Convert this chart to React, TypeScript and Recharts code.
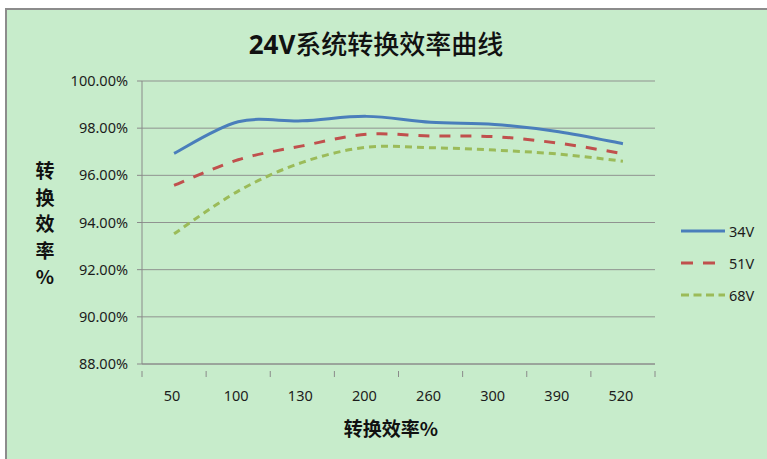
import React from "react";
import { LineChart, Line, XAxis, YAxis, CartesianGrid } from "recharts";

const categories = ["50", "100", "130", "200", "260", "300", "390", "520"];
const v34 = [96.93, 98.27, 98.31, 98.5, 98.25, 98.16, 97.85, 97.34];
const v51 = [95.57, 96.66, 97.25, 97.74, 97.67, 97.64, 97.36, 96.92];
const v68 = [93.52, 95.33, 96.55, 97.19, 97.17, 97.07, 96.9, 96.6];
const yTicks = [88, 90, 92, 94, 96, 98, 100];

const data = categories.map((c, i) => ({ name: c, a: v34[i], b: v51[i], c: v68[i] }));

const SERIES = [
  { key: "a", name: "34V", color: "#4A7EBB", dash: undefined, legendDash: undefined },
  { key: "b", name: "51V", color: "#C0504D", dash: "11 10", legendDash: "12 10" },
  { key: "c", name: "68V", color: "#9BBB59", dash: "7 5", legendDash: "8 4.5" },
];

const W = 767;
const H = 459;
const M = { top: 81, right: 112, bottom: 0, left: 0 };
const X_H = 95;
const Y_W = 142;
const BAND = (W - Y_W - M.right) / categories.length;

const FONT = '"Noto Sans", "Noto Sans CJK SC", sans-serif';
const CJK = '"Noto Sans CJK SC", sans-serif';
const TEXT = "#1c1c1c";
const AXIS = "#8a8a8a";

// excel-like smoothed line (catmull-rom)
const excelSmooth = (context: any) => {
  let pts: number[][] = [];
  return {
    areaStart() {},
    areaEnd() {},
    lineStart() {
      pts = [];
    },
    point(x: number, y: number) {
      pts.push([+x, +y]);
    },
    lineEnd() {
      if (!pts.length) return;
      context.moveTo(pts[0][0], pts[0][1]);
      for (let i = 0; i < pts.length - 1; i++) {
        const p0 = pts[Math.max(i - 1, 0)];
        const p1 = pts[i];
        const p2 = pts[i + 1];
        const p3 = pts[Math.min(i + 2, pts.length - 1)];
        context.bezierCurveTo(
          p1[0] + (p2[0] - p0[0]) / 6,
          p1[1] + (p2[1] - p0[1]) / 6,
          p2[0] - (p3[0] - p1[0]) / 6,
          p2[1] - (p3[1] - p1[1]) / 6,
          p2[0],
          p2[1]
        );
      }
    },
  };
};

const XTick = (props: any) => {
  const { x, y, payload, index } = props;
  const half = BAND / 2;
  return (
    <g>
      <line x1={x - half} x2={x - half} y1={y - 1} y2={y + 5} stroke={AXIS} />
      {index === categories.length - 1 && (
        <line x1={x + half} x2={x + half} y1={y - 1} y2={y + 5} stroke={AXIS} />
      )}
      <text x={x - 2} y={y + 29} textAnchor="middle" fontSize={14.5} fontFamily={FONT} fill={TEXT}>
        {payload.value}
      </text>
    </g>
  );
};

export default function App() {
  return (
    <div style={{ position: "absolute", left: 0, top: 0, width: W, height: H, background: "#fff", overflow: "hidden" }}>
      <div
        style={{
          position: "absolute",
          left: 5,
          top: 8,
          width: 820,
          height: 520,
          background: "#C7ECCB",
          border: "2px solid #8c8c8c",
          boxSizing: "border-box",
        }}
      />
      <div
        style={{
          position: "absolute",
          left: 0,
          top: 27,
          width: 752,
          textAlign: "center",
          fontSize: 26,
          lineHeight: "32px",
          color: "#111",
        }}
      >
        <span style={{ fontFamily: FONT, fontWeight: 700 }}>24V</span>
        <span style={{ fontFamily: CJK, fontWeight: 500 }}>系统转换效率曲线</span>
      </div>
      <div
        style={{
          position: "absolute",
          left: 33,
          top: 157,
          width: 24,
          textAlign: "center",
          fontFamily: CJK,
          fontWeight: 700,
          fontSize: 19,
          lineHeight: "26.5px",
          color: "#111",
        }}
      >
        {"转换效率%".split("").map((ch, i) => (
          <div key={i}>{ch}</div>
        ))}
      </div>
      <div
        style={{
          position: "absolute",
          left: 0,
          top: 415,
          width: 782,
          textAlign: "center",
          fontFamily: CJK,
          fontWeight: 700,
          fontSize: 19,
          lineHeight: "26px",
          color: "#111",
        }}
      >
        转换效率%
      </div>
      <div style={{ position: "absolute", left: 680, top: 215, fontFamily: FONT, fontSize: 14.5, color: TEXT }}>
        {SERIES.map((s) => (
          <div key={s.key} style={{ display: "flex", alignItems: "center", height: 32 }}>
            <svg width={48} height={10}>
              <line x1={1} x2={45} y1={5} y2={5} stroke={s.color} strokeWidth={3} strokeDasharray={s.legendDash} />
            </svg>
            <span style={{ marginLeft: 1 }}>{s.name}</span>
          </div>
        ))}
      </div>
      <div style={{ position: "absolute", left: 0, top: 0 }}>
        <LineChart width={W} height={H} data={data} margin={M}>
          <CartesianGrid vertical={false} stroke={AXIS} strokeOpacity={0.9} />
          <XAxis
            dataKey="name"
            scale="band"
            stroke={AXIS}
            tickLine={false}
            tick={<XTick />}
            interval={0}
            height={X_H}
          />
          <YAxis
            width={Y_W}
            domain={[88, 100]}
            ticks={yTicks}
            interval={0}
            stroke={AXIS}
            tickSize={5}
            tickMargin={9}
            tickFormatter={(v: number) => `${v.toFixed(2)}%`}
            tick={{ fontSize: 14.5, fontFamily: FONT, fill: TEXT }}
          />
          {SERIES.map((s) => (
            <Line
              key={s.key}
              dataKey={s.key}
              name={s.name}
              type={excelSmooth as any}
              stroke={s.color}
              strokeWidth={3}
              strokeDasharray={s.dash}
              dot={false}
              activeDot={false}
              isAnimationActive={false}
            />
          ))}
        </LineChart>
      </div>
    </div>
  );
}
